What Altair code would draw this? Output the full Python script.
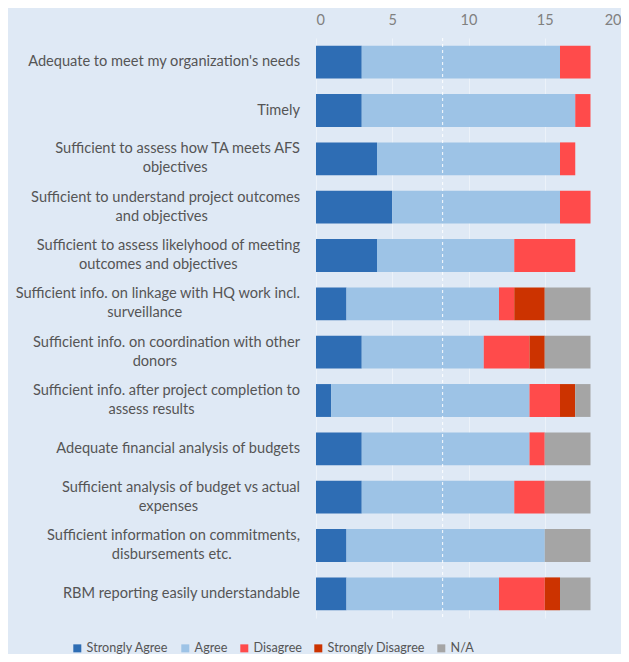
import altair as alt
import pandas as pd

# ---------------- data ----------------
label_line1 = [
    "Adequate to meet my organization's needs",
    "Timely",
    "Sufficient to assess how TA meets AFS",
    "Sufficient to understand project outcomes",
    "Sufficient to assess likelyhood of meeting",
    "Sufficient info. on linkage with HQ work incl.",
    "Sufficient info. on coordination with other",
    "Sufficient info. after project completion to",
    "Adequate financial analysis of budgets",
    "Sufficient analysis of budget vs actual",
    "Sufficient information on commitments,",
    "RBM reporting easily understandable",
]
label_line2 = [
    "",
    "",
    "objectives",
    "and objectives",
    "outcomes and objectives",
    "surveillance",
    "donors",
    "assess results",
    "",
    "expenses",
    "disbursements etc.",
    "",
]
responses = ["Strongly Agree", "Agree", "Disagree", "Strongly Disagree", "N/A"]
colors = ["#2e6db4", "#9dc3e6", "#ff4b4b", "#cc3300", "#a5a5a5"]

strongly_agree = [3, 3, 4, 5, 4, 2, 3, 1, 3, 3, 2, 2]
agree = [13, 14, 12, 11, 9, 10, 8, 13, 11, 10, 13, 10]
disagree = [2, 1, 1, 2, 4, 1, 3, 2, 1, 2, 0, 3]
strongly_disagree = [0, 0, 0, 0, 0, 2, 1, 1, 0, 0, 0, 1]
not_applicable = [0, 0, 0, 0, 0, 3, 3, 1, 3, 3, 3, 2]
reference_line = 8.3

x_ticks = [0, 5, 10, 15, 20]

# ---------------- build tables ----------------
series = [strongly_agree, agree, disagree, strongly_disagree, not_applicable]
rows = []
for i, cat in enumerate(label_line1):
    for j, resp in enumerate(responses):
        rows.append({"cat": cat, "response": resp, "value": series[j][i], "ord": j})
df = pd.DataFrame(rows)
labels_df = pd.DataFrame({"cat": label_line1, "line1": label_line1, "line2": label_line2})

W, H = 305, 580
FONT = "Lato"
TXT = "#555555"
FS = 14.6

y_enc = alt.Y("cat:N", sort=label_line1, axis=None,
              scale=alt.Scale(paddingInner=0.32, paddingOuter=0.16))

bars = alt.Chart(df).mark_bar().encode(
    x=alt.X("value:Q", stack="zero",
            scale=alt.Scale(domain=[0, 20], nice=False),
            axis=alt.Axis(orient="top", values=x_ticks, title=None, ticks=False,
                          domain=False, grid=True, gridColor="#ecf2f9", gridWidth=1,
                          labelColor="#808080", labelFontSize=14.5, labelFont=FONT,
                          labelPadding=11)),
    y=y_enc,
    color=alt.Color("response:N", sort=responses,
                    scale=alt.Scale(domain=responses, range=colors),
                    legend=alt.Legend(title=None, orient="none", direction="horizontal",
                                      legendX=-245, legendY=604, padding=0,
                                      symbolType="square",
                                      symbolSize=64, symbolStrokeWidth=0,
                                      labelFontSize=12.6, labelFont=FONT, labelColor=TXT,
                                      labelOffset=3, columnPadding=10)),
    order=alt.Order("ord:Q"),
)

rule = alt.Chart(pd.DataFrame({"x": [reference_line]})).mark_rule(
    color="white", strokeDash=[3, 3], strokeWidth=1.2, opacity=0.8
).encode(x="x:Q")

single = alt.Chart(labels_df).transform_filter("datum.line2 == ''").mark_text(
    align="right", baseline="middle", font=FONT, fontSize=FS, color=TXT
).encode(y=y_enc, x=alt.value(-16), text="line1:N")

first = alt.Chart(labels_df).transform_filter("datum.line2 != ''").mark_text(
    align="right", baseline="middle", font=FONT, fontSize=FS, color=TXT, dy=-9.5
).encode(y=y_enc, x=alt.value(-16), text="line1:N")

second = alt.Chart(labels_df).transform_filter("datum.line2 != ''").transform_calculate(
    cx="(-16 - length(datum.line1) * 6.75 / 2) * 20 / %d" % W
).mark_text(
    align="center", baseline="middle", font=FONT, fontSize=FS, color=TXT, dy=9.5
).encode(y=y_enc, x=alt.X("cx:Q"), text="line2:N")

chart = alt.layer(bars, rule, single, first, second).properties(
    width=W, height=H,
    background="#dfe9f5",
    padding={"left": 308, "top": 30, "right": 0, "bottom": 36},
    autosize=alt.AutoSizeParams(type="none"),
).configure_view(stroke=None)

chart.save("out.html", embed_options={"renderer": "svg", "actions": False})
